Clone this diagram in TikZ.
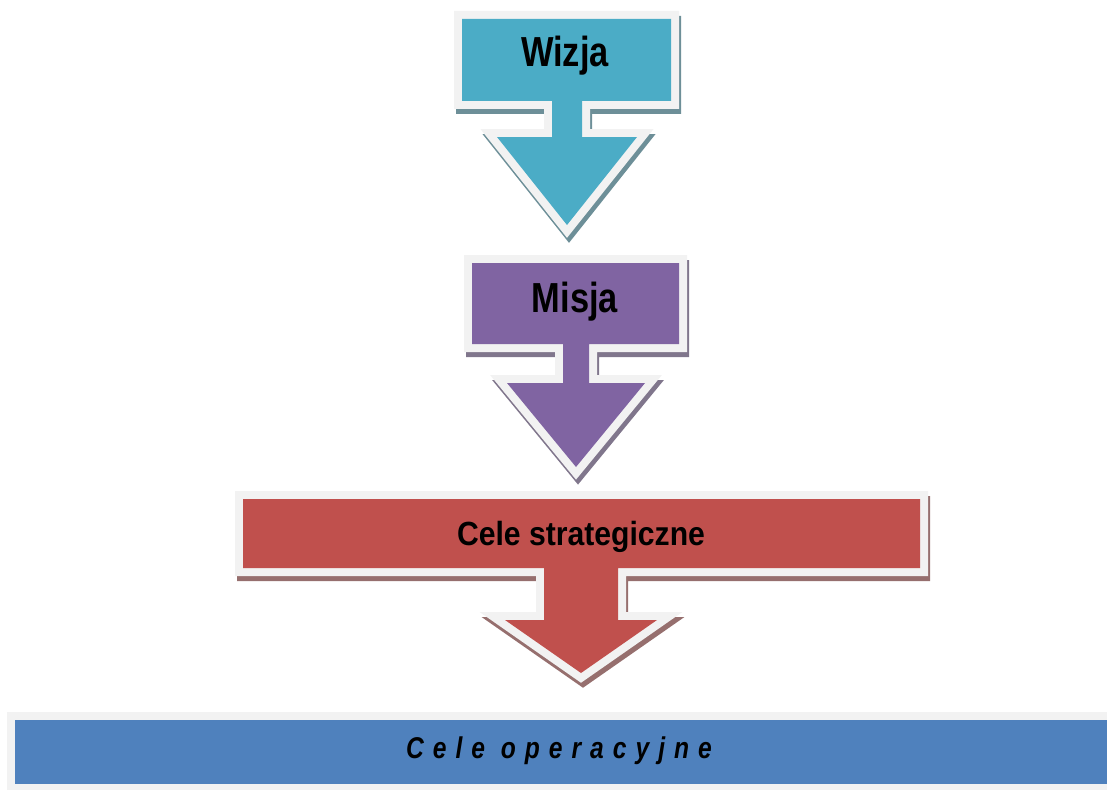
\documentclass[tikz,border=0pt]{standalone}
\usepackage{fontspec}
\setmainfont{Liberation Sans}
\newfontfamily\narrowfont[FakeStretch=0.82]{Liberation Sans}
\newfontfamily\wideishfont[FakeStretch=0.90]{Liberation Sans}
\newfontfamily\spacedfont[FakeStretch=0.82,LetterSpace=30]{Liberation Sans}
\definecolor{wizjacol}{HTML}{4BACC6}
\definecolor{misjacol}{HTML}{8064A2}
\definecolor{strategcol}{HTML}{C0504D}
\definecolor{operacol}{HTML}{4F81BD}
\definecolor{framecol}{HTML}{F2F2F2}
\tikzset{
  rim/.style={draw=framecol, line width=16pt, line join=miter},
  shade off/.style={fill=#1!35!gray, draw=#1!35!gray, line width=16pt, line join=miter, shift={(2,5)}},
  title text/.style={anchor=base, inner sep=0pt, text=black}
}
\begin{document}
\begin{tikzpicture}[x=1pt,y=-1pt]
\useasboundingbox (0,0) rectangle (1107,789);
\clip (0,0) rectangle (1107,789);
% three arrows: box, stem, head
\foreach \L/\R/\T/\B/\cx/\s/\h/\hy/\ty/\col in {
   462/671/19/101/567/15/70/137/225/wizjacol,
   472/679/263/344/576/13/69/383/467/misjacol,
   243/920/499/568/581/37/76/620/673/strategcol}
{
   \path[shade off=\col] (\L,\T) -- (\R,\T) -- (\R,\B) -- (\cx+\s,\B) -- (\cx+\s,\hy) -- (\cx+\h,\hy)
      -- (\cx,\ty) -- (\cx-\h,\hy) -- (\cx-\s,\hy) -- (\cx-\s,\B) -- (\L,\B) -- cycle;
   \path[rim] (\L,\T) -- (\R,\T) -- (\R,\B) -- (\cx+\s,\B) -- (\cx+\s,\hy) -- (\cx+\h,\hy)
      -- (\cx,\ty) -- (\cx-\h,\hy) -- (\cx-\s,\hy) -- (\cx-\s,\B) -- (\L,\B) -- cycle;
   \fill[\col] (\L,\T) -- (\R,\T) -- (\R,\B) -- (\cx+\s,\B) -- (\cx+\s,\hy) -- (\cx+\h,\hy)
      -- (\cx,\ty) -- (\cx-\h,\hy) -- (\cx-\s,\hy) -- (\cx-\s,\B) -- (\L,\B) -- cycle;
}
% bottom bar
\path[rim] (15,720) rectangle (1130,784);
\fill[operacol] (15,720) rectangle (1130,784);

\node[title text] (wizja) at (565,67) {\narrowfont\bfseries\fontsize{42}{42}\selectfont Wizja};
\node[title text] (misja) at (575,312) {\narrowfont\bfseries\fontsize{42}{42}\selectfont Misja};
\node[title text] (strateg) at (581,545) {\wideishfont\bfseries\fontsize{33.5}{33.5}\selectfont Cele strategiczne};
\node[title text] (operac) at (559,758) {\spacedfont\bfseries\itshape\fontsize{30}{30}\selectfont Cele operacyjne};
\end{tikzpicture}
\end{document}
